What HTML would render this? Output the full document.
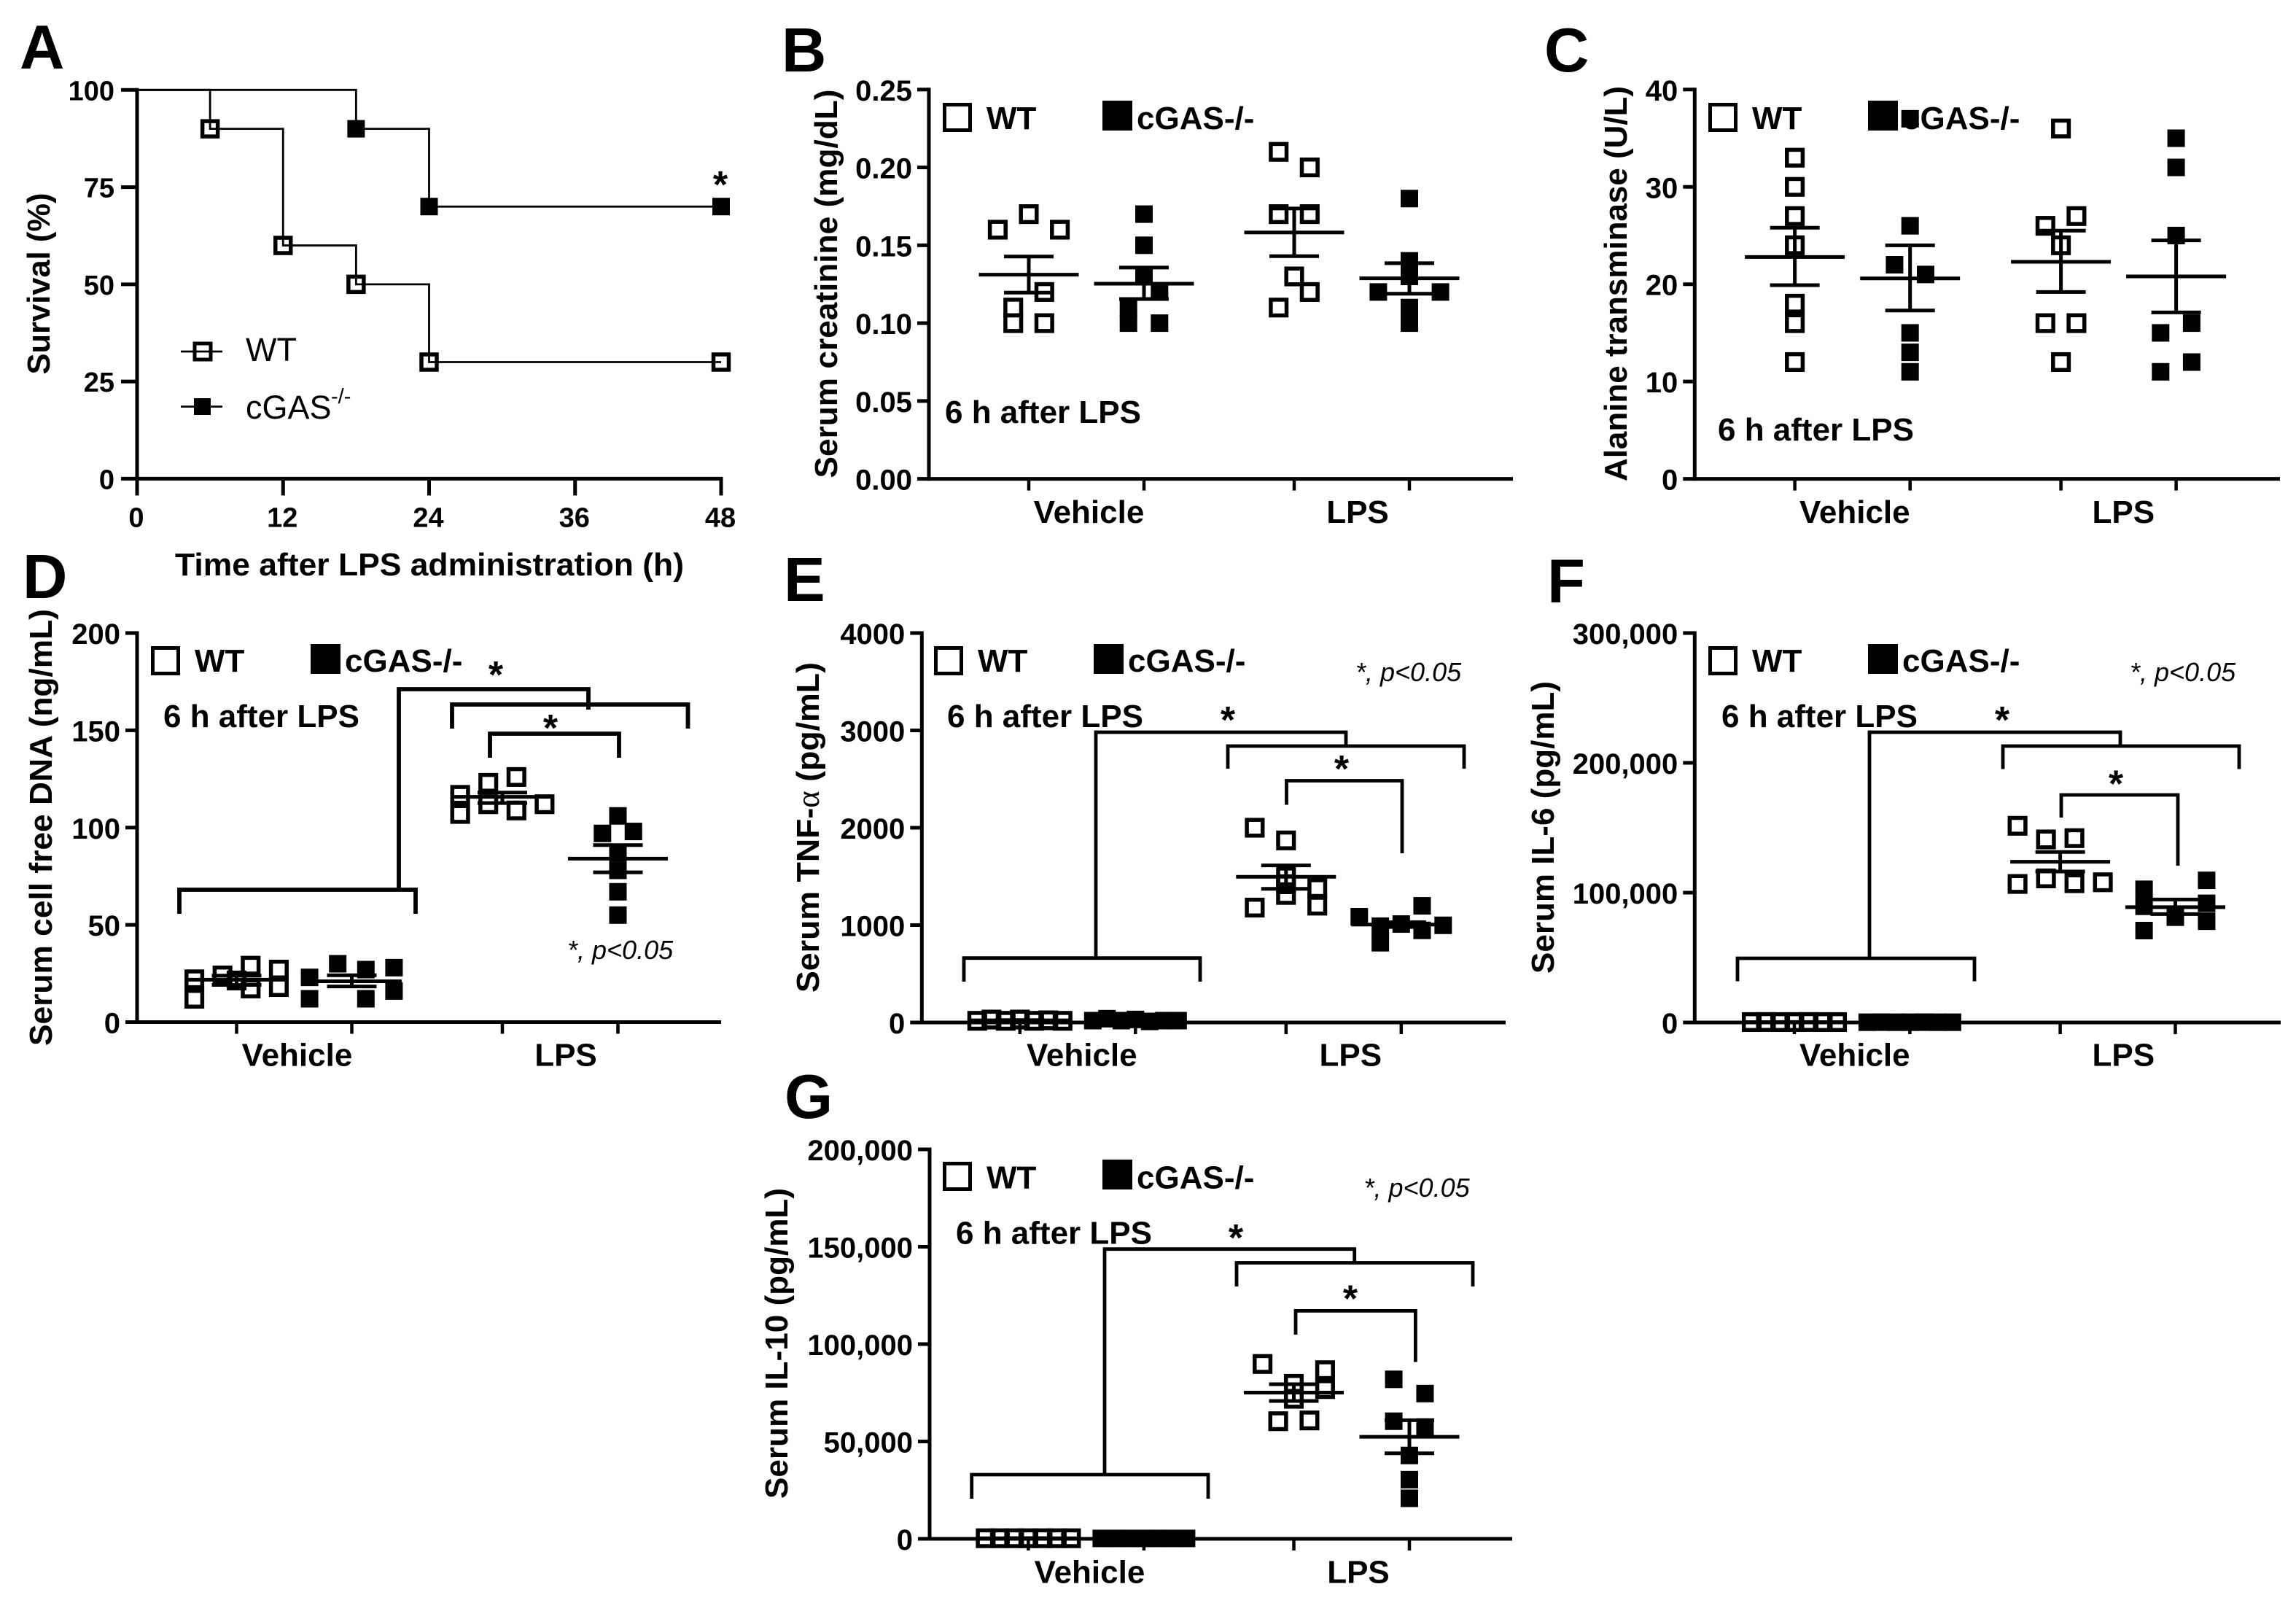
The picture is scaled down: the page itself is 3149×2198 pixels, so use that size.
<!DOCTYPE html>
<html lang="en">
<head>
<meta charset="utf-8">
<title>cGAS knockout LPS figure</title>
<style>
html,body{margin:0;padding:0;background:#fff;}
svg{display:block;}
text{font-family:"Liberation Sans",sans-serif;font-weight:700;fill:#000;}
.letter{font-size:85px;}
.ytitle{font-size:44px;text-anchor:middle;}
</style>
</head>
<body>
<svg id="fig" xmlns="http://www.w3.org/2000/svg" width="3149" height="2198" viewBox="0 0 3149 2198">
<rect x="0" y="0" width="3149" height="2198" fill="#fff"/>

<g id="panel-a">
<text class="letter" x="27" y="94">A</text>
<text class="ytitle" transform="translate(68,389) rotate(-90)" textLength="249" lengthAdjust="spacingAndGlyphs">Survival (%)</text>
<text x="240" y="789" font-size="44" textLength="698" lengthAdjust="spacingAndGlyphs">Time after LPS administration (h)</text>
</g>
<g id="panel-b">
<text class="letter" x="1072" y="98">B</text>
<text class="ytitle" transform="translate(1148,389) rotate(-90)" textLength="533" lengthAdjust="spacingAndGlyphs">Serum creatinine (mg/dL)</text>
</g>
<g id="panel-c">
<text class="letter" x="2118" y="98">C</text>
<text class="ytitle" transform="translate(2231,389) rotate(-90)" textLength="542" lengthAdjust="spacingAndGlyphs">Alanine transminase (U/L)</text>
</g>
<g id="panel-d">
<text class="letter" x="31" y="820">D</text>
<text class="ytitle" transform="translate(71,1134.5) rotate(-90)" textLength="599" lengthAdjust="spacingAndGlyphs">Serum cell free DNA (ng/mL)</text>
</g>
<g id="panel-e">
<text class="letter" x="1075" y="824">E</text>
<text class="ytitle" transform="translate(1123,1134.5) rotate(-90)" textLength="453" lengthAdjust="spacingAndGlyphs">Serum TNF-<tspan font-family="Liberation Serif" font-weight="400">α</tspan> (pg/mL)</text>
</g>
<g id="panel-f">
<text class="letter" x="2122" y="826">F</text>
<text class="ytitle" transform="translate(2131,1134.5) rotate(-90)" textLength="401" lengthAdjust="spacingAndGlyphs">Serum IL-6 (pg/mL)</text>
</g>
<g id="panel-g">
<text class="letter" x="1076" y="1533">G</text>
<text class="ytitle" transform="translate(1080,1842) rotate(-90)" textLength="426" lengthAdjust="spacingAndGlyphs">Serum IL-10 (pg/mL)</text>
</g>
</svg>

<script>
// ---------- Panel A data ----------
const aTimesWt = [0, 6, 12, 18, 24, 48];
const aSurvivalWt = [100, 90, 60, 50, 30, 30];
const aTimesKo = [0, 18, 24, 48];
const aSurvivalKo = [100, 90, 70, 70];
const aXTicks = [0, 12, 24, 36, 48];
const aYTicks = [0, 25, 50, 75, 100];

// ---------- Shared ----------
const categories = ["Vehicle", "LPS"];

// ---------- Panel B data ----------
const bTickValues = [0, 0.05, 0.10, 0.15, 0.20, 0.25];
const bTickLabels = ["0.00", "0.05", "0.10", "0.15", "0.20", "0.25"];
const bVehWt = [0.16, 0.17, 0.16, 0.12, 0.11, 0.10, 0.10];
const bVehWtSwarm = [-2, 0, 2, 1, -1, -1, 1];
const bVehKo = [0.17, 0.15, 0.13, 0.12, 0.11, 0.10, 0.10];
const bVehKoSwarm = [0, 0, 0, 1, -1, -1, 1];
const bLpsWt = [0.21, 0.20, 0.17, 0.17, 0.13, 0.12, 0.11];
const bLpsWtSwarm = [-1, 1, -1, 1, 0, 1, -1];
const bLpsKo = [0.18, 0.14, 0.13, 0.12, 0.12, 0.11, 0.10];
const bLpsKoSwarm = [0, 0, 0, -2, 2, 0, 0];
const bMeans = [0.1311, 0.1253, 0.1582, 0.1288];
const bUpper = [0.1428, 0.1357, 0.1736, 0.1385];
const bLower = [0.1196, 0.1155, 0.1430, 0.1189];

// ---------- Panel C data ----------
const cTickValues = [0, 10, 20, 30, 40];
const cTickLabels = ["0", "10", "20", "30", "40"];
const cVehWt = [33, 30, 27, 24, 18, 16, 12];
const cVehWtSwarm = [0, 0, 0, 0, 0, 0, 0];
const cVehKo = [37, 26, 22, 21, 15, 13, 11];
const cVehKoSwarm = [0, 0, -1, 1, 0, 0, 0];
const cLpsWt = [36, 27, 26, 24, 16, 16, 12];
const cLpsWtSwarm = [0, 1, -1, 0, -1, 1, 0];
const cLpsKo = [35, 32, 25, 16, 15, 12, 11];
const cLpsKoSwarm = [0, 0, 0, 1, -1, 1, -1];
const cMeans = [22.8, 20.6, 22.3, 20.8];
const cUpper = [25.8, 24.0, 25.5, 24.5];
const cLower = [19.9, 17.3, 19.2, 17.1];

// ---------- Panel D data ----------
const dTickValues = [0, 50, 100, 150, 200];
const dTickLabels = ["0", "50", "100", "150", "200"];
const dVehWt = [22, 12, 24, 21.4, 29, 17.3, 27, 18];
const dVehWtSwarm = [-3, -3, -1, 0, 1, 1, 3, 3];
const dVehKo = [23, 12, 30, 27, 12, 28, 16];
const dVehKoSwarm = [-3, -3, -1, 1, 1, 3, 3];
const dLpsWt = [116.8, 107, 123, 112, 126, 108.8, 112];
const dLpsWtSwarm = [-3, -3, -1, -1, 1, 1, 3];
const dLpsKo = [106, 97, 98, 87, 78, 67, 55];
const dLpsKoSwarm = [0, -1.1, 1.1, 0, 0, 0, 0];
const dMeans = [21.8, 21, 115.8, 84];
const dUpper = [23.9, 24.1, 118, 91];
const dLower = [19.1, 18.3, 112.6, 77];

// ---------- Panel E data ----------
const eTickValues = [0, 1000, 2000, 3000, 4000];
const eTickLabels = ["0", "1000", "2000", "3000", "4000"];
const eVehWt = [17, 30, 17, 30, 17, 22, 17];
const eVehWtSwarm = [-3, -2, -1, 0, 1, 2, 3];
const eVehKo = [19, 39, 19, 31, 11, 19, 19];
const eVehKoSwarm = [-3, -2, -1, 0, 1, 2, 3];
const eLpsWt = [2000, 1180, 1870, 1500, 1420, 1310, 1380, 1200];
const eLpsWtSwarm = [-2.2, -2.2, 0, 0, 0, 0, 2.2, 2.2];
const eLpsKo = [1086, 989, 819, 1011, 1198, 946, 998];
const eLpsKoSwarm = [-2.95, -1.47, -1.47, 0, 1.47, 1.47, 2.95];
const eMeans = [22, 20, 1496, 1006];
const eUpper = [24, 22, 1613, 1030];
const eLower = [20, 18, 1373, 980];

// ---------- Panel F data ----------
const fTickValues = [0, 100000, 200000, 300000];
const fTickLabels = ["0", "100,000", "200,000", "300,000"];
const fVehWt = [300, 350, 300, 300, 350, 300, 300];
const fVehWtSwarm = [-3, -2, -1, 0, 1, 2, 3];
const fVehKo = [200, 250, 200, 200, 250, 200, 200];
const fVehKoSwarm = [-3, -2, -1, 0, 1, 2, 3];
const fLpsWt = [151500, 106700, 141000, 111000, 142000, 107300, 108000];
const fLpsWtSwarm = [-3, -3, -1, -1, 1, 1, 3];
const fLpsKo = [102600, 89500, 70800, 81100, 109500, 91800, 78000];
const fLpsKoSwarm = [-2.2, -2.2, -2.2, 0, 2.2, 2.2, 2.2];
const fMeans = [310, 220, 123800, 88800];
const fUpper = [340, 240, 131300, 94700];
const fLower = [280, 200, 116300, 83500];

// ---------- Panel G data ----------
const gTickValues = [0, 50000, 100000, 150000, 200000];
const gTickLabels = ["0", "50,000", "100,000", "150,000", "200,000"];
const gVehWt = [300, 300, 300, 300, 300, 300, 300];
const gVehWtSwarm = [-3, -2, -1, 0, 1, 2, 3];
const gVehKo = [200, 200, 200, 200, 200, 200, 200];
const gVehKoSwarm = [-3, -2, -1, 0, 1, 2, 3];
const gLpsWt = [89800, 86600, 76900, 79600, 71900, 60400, 60800];
const gLpsWtSwarm = [-2.2, 2.2, 2.2, 0, 0, -1.1, 1.1];
const gLpsKo = [81900, 74600, 60400, 57400, 42800, 30400, 20800];
const gLpsKoSwarm = [-1.1, 1.1, -1.1, 1.1, 0, 0, 0];
const gMeans = [300, 200, 75100, 52400];
const gUpper = [320, 220, 79400, 60900];
const gLower = [280, 180, 70800, 43900];

// ---------- Helpers ----------
const NS = "http://www.w3.org/2000/svg";
function mk(parent, tag, attrs, txt) {
  const el = document.createElementNS(NS, tag);
  for (const k in attrs) el.setAttribute(k, attrs[k]);
  if (txt !== undefined) el.textContent = txt;
  parent.appendChild(el);
  return el;
}
function line(parent, x1, y1, x2, y2, sw) {
  return mk(parent, "line", {x1: x1, y1: y1, x2: x2, y2: y2, stroke: "#000", "stroke-width": sw});
}

// ---------- Panel A ----------
(function () {
  const g = document.getElementById("panel-a");
  const x0 = 188, x1 = 989, y0 = 656.4, yT = 123.3;
  const sx = h => x0 + h / 48 * (x1 - x0);
  const sy = v => y0 - v / 100 * (y0 - yT);
  let el;
  el = line(g, x0, yT - 2.5, x0, y0 + 2.5, 5);
  
  
  el = line(g, x0 - 2.5, y0, x1 + 2.5, y0, 5);
  
  
  aYTicks.forEach(v => {
    let t = line(g, x0 - 22, sy(v), x0, sy(v), 5);
    
    
    t = mk(g, "text", {x: 157, y: sy(v) + 14, "text-anchor": "end", "font-size": 38}, String(v));
    
    
  });
  aXTicks.forEach(v => {
    let t = line(g, sx(v), y0, sx(v), y0 + 23, 5);
    
    
    t = mk(g, "text", {x: sx(v) - 1, y: 722.6, "text-anchor": "middle", "font-size": 38}, String(v));
    
    
  });
  function steps(times, vals) {
    let d = "M" + sx(times[0]) + " " + sy(vals[0]);
    for (let i = 1; i < times.length; i++) d += "H" + sx(times[i]) + "V" + sy(vals[i]);
    return d;
  }
  el = mk(g, "path", {d: steps(aTimesWt, aSurvivalWt), fill: "none", stroke: "#000", "stroke-width": 2.8});
  
  
  el = mk(g, "path", {d: steps(aTimesKo, aSurvivalKo), fill: "none", stroke: "#000", "stroke-width": 2.8});
  
  
  aTimesWt.forEach((t, i) => {
    if (i === 0) return;
    const m = mk(g, "rect", {x: sx(t) - 10.5, y: sy(aSurvivalWt[i]) - 10.5, width: 21, height: 21, fill: "none", stroke: "#000", "stroke-width": 5.5});
    
    
  });
  aTimesKo.forEach((t, i) => {
    if (i === 0) return;
    const m = mk(g, "rect", {x: sx(t) - 12, y: sy(aSurvivalKo[i]) - 12, width: 24, height: 24, fill: "#000"});
    
    
  });
  el = mk(g, "text", {x: 988, y: 271, "text-anchor": "middle", "font-size": 52}, "*");
  
  
  // legend
  el = line(g, 248, 482, 305, 482, 2.8);
  
  
  el = mk(g, "rect", {x: 267, y: 471, width: 22, height: 22, fill: "none", stroke: "#000", "stroke-width": 5});
  
  
  el = mk(g, "text", {x: 337, y: 495, "font-size": 45, style: "font-weight:400"}, "WT");
  
  
  el = line(g, 248, 557.5, 305, 557.5, 2.8);
  
  
  el = mk(g, "rect", {x: 266, y: 546, width: 23, height: 23, fill: "#000"});
  
  
  el = mk(g, "text", {x: 337, y: 574, "font-size": 45, style: "font-weight:400"}, "cGAS");
  
  
  el = mk(g, "text", {x: 454, y: 553, "font-size": 29, style: "font-weight:400"}, "-/-");
  
  
})();

// ---------- Dot panels ----------
function dotPanel(c) {
  const g = document.getElementById(c.id);
  const sy = v => c.y0 - v / c.max * (c.y0 - c.yT);
  let el;
  el = line(g, c.ax, c.yT - 2.5, c.ax, c.y0 + 2.5, 5);
  
  
  el = line(g, c.ax - 2.5, c.y0, c.xEnd, c.y0, 5);
  
  
  c.tickValues.forEach((v, i) => {
    let t = line(g, c.ax - 16, sy(v), c.ax, sy(v), 5);
    
    
    t = mk(g, "text", {x: c.ax - 23, y: sy(v) + 15, "text-anchor": "end", "font-size": 40}, c.tickLabels[i]);
    
    
  });
  c.catTicks.forEach(dx => {
    const t = line(g, c.ax + dx, c.y0, c.ax + dx, c.y0 + 16, 4.5);
    
    
  });
  categories.forEach((name, i) => {
    const t = mk(g, "text", {x: c.ax + [219.5, 588][i], y: c.catBase, "text-anchor": "middle", "font-size": 44}, name);
    
    
  });
  // marks
  c.groups.forEach((grp, gi) => {
    const cx = c.ax + c.catTicks[gi];
    grp.values.forEach((v, i) => {
      const px = cx + grp.swarm[i] * c.unit;
      let m;
      if (grp.open) {
        m = mk(g, "rect", {x: px - 10.8, y: sy(v) - 10.8, width: 21.6, height: 21.6, fill: "none", stroke: "#000", "stroke-width": 5.5});
      } else {
        m = mk(g, "rect", {x: px - 12, y: sy(v) - 12, width: 24, height: 24, fill: "#000"});
      }
      
      
    });
    let e;
    e = line(g, cx - 68.5, sy(c.means[gi]), cx + 68.5, sy(c.means[gi]), 5);
    
    
    e = line(g, cx, sy(c.upper[gi]), cx, sy(c.lower[gi]), 5);
    
    
    e = line(g, cx - 34, sy(c.upper[gi]), cx + 34, sy(c.upper[gi]), 5);
    
    
    e = line(g, cx - 34, sy(c.lower[gi]), cx + 34, sy(c.lower[gi]), 5);
    
    
  });
  // legend
  el = mk(g, "rect", {x: c.leg.ox + 2.5, y: c.leg.oy + 2.5, width: 35, height: 35, fill: "none", stroke: "#000", "stroke-width": 5});
  
  
  el = mk(g, "text", {x: c.leg.ox + 60, y: c.leg.base, "font-size": 44}, "WT");
  
  
  el = mk(g, "rect", {x: c.leg.ox + 219, y: c.leg.oy - 3, width: 41, height: 41, fill: "#000"});
  
  
  el = mk(g, "text", {x: c.leg.ox + 266, y: c.leg.base, "font-size": 44}, "cGAS-/-");
  
  
  // annotation
  el = mk(g, "text", {x: c.note[0], y: c.note[1], "font-size": 44}, "6 h after LPS");
  
  
  if (c.p) {
    el = mk(g, "text", {x: c.p[0], y: c.p[1], "font-size": 36, "font-style": "italic", style: "font-weight:400"}, "*, p<0.05");
    
    
  }
  (c.brackets || []).forEach(d => {
    const b = mk(g, "path", {d: d, fill: "none", stroke: "#000", "stroke-width": c.bracketWidth || 4.8});
    
    
  });
  (c.stars || []).forEach(s => {
    const t = mk(g, "text", {x: s[0], y: s[1] + 28, "text-anchor": "middle", "font-size": 52}, "*");
    
    
  });
}

dotPanel({
  id: "panel-b", ax: 1274, xEnd: 2075, yT: 122.8, y0: 656.6, max: 0.25, unit: 21.3,
  catTicks: [137, 295, 501, 659], catBase: 717,
  tickValues: bTickValues, tickLabels: bTickLabels,
  groups: [
    {values: bVehWt, swarm: bVehWtSwarm, open: true},
    {values: bVehKo, swarm: bVehKoSwarm, open: false},
    {values: bLpsWt, swarm: bLpsWtSwarm, open: true},
    {values: bLpsKo, swarm: bLpsKoSwarm, open: false}
  ],
  means: bMeans, upper: bUpper, lower: bLower,
  leg: {ox: 1293, oy: 141, base: 177}, note: [1296, 580]
});
dotPanel({
  id: "panel-c", ax: 2324.3, xEnd: 3127, yT: 122.8, y0: 656.6, max: 40, unit: 21.3,
  catTicks: [137.3, 295.4, 502.3, 660.3], catBase: 717,
  tickValues: cTickValues, tickLabels: cTickLabels,
  groups: [
    {values: cVehWt, swarm: cVehWtSwarm, open: true},
    {values: cVehKo, swarm: cVehKoSwarm, open: false},
    {values: cLpsWt, swarm: cLpsWtSwarm, open: true},
    {values: cLpsKo, swarm: cLpsKoSwarm, open: false}
  ],
  means: cMeans, upper: cUpper, lower: cLower,
  leg: {ox: 2343, oy: 141, base: 177}, note: [2356, 604]
});
dotPanel({
  id: "panel-d", ax: 188, xEnd: 989, yT: 868, y0: 1401.5, max: 200, unit: 19.3,
  catTicks: [136.5, 294.5, 501, 659.5], catBase: 1461.5,
  tickValues: dTickValues, tickLabels: dTickLabels,
  groups: [
    {values: dVehWt, swarm: dVehWtSwarm, open: true},
    {values: dVehKo, swarm: dVehKoSwarm, open: false},
    {values: dLpsWt, swarm: dLpsWtSwarm, open: true},
    {values: dLpsKo, swarm: dLpsKoSwarm, open: false}
  ],
  means: dMeans, upper: dUpper, lower: dLower,
  leg: {ox: 207, oy: 886, base: 921}, note: [224, 997], p: [778, 1315], bracketWidth: 5.8,
  brackets: ["M246 1253V1220H570V1253", "M547 1220V945H807V973", "M620 999V966H943.5V999", "M672 1039V1006H849V1039"],
  stars: [[680, 915], [755, 988]]
});
dotPanel({
  id: "panel-e", ax: 1264.3, xEnd: 2065, yT: 868, y0: 1402, max: 4000, unit: 19.5,
  catTicks: [134.5, 293, 499.5, 657.5], catBase: 1461.5,
  tickValues: eTickValues, tickLabels: eTickLabels,
  groups: [
    {values: eVehWt, swarm: eVehWtSwarm, open: true},
    {values: eVehKo, swarm: eVehKoSwarm, open: false},
    {values: eLpsWt, swarm: eLpsWtSwarm, open: true},
    {values: eLpsKo, swarm: eLpsKoSwarm, open: false}
  ],
  means: eMeans, upper: eUpper, lower: eLower,
  leg: {ox: 1281, oy: 886, base: 921}, note: [1299, 997], p: [1859, 934],
  brackets: ["M1322 1346V1313.7H1646V1346", "M1503 1313.7V1004H1846V1023", "M1684 1054V1023H2008V1054", "M1764.5 1103.5V1070.5H1923V1170"],
  stars: [[1684, 977], [1840, 1044]]
});
dotPanel({
  id: "panel-f", ax: 2324.3, xEnd: 3128, yT: 868, y0: 1402, max: 300000, unit: 19.5,
  catTicks: [136.7, 295.1, 501.3, 659.2], catBase: 1461.5,
  tickValues: fTickValues, tickLabels: fTickLabels,
  groups: [
    {values: fVehWt, swarm: fVehWtSwarm, open: true},
    {values: fVehKo, swarm: fVehKoSwarm, open: false},
    {values: fLpsWt, swarm: fLpsWtSwarm, open: true},
    {values: fLpsKo, swarm: fLpsKoSwarm, open: false}
  ],
  means: fMeans, upper: fUpper, lower: fLower,
  leg: {ox: 2343, oy: 886, base: 921}, note: [2361, 997], p: [2921, 934],
  brackets: ["M2383 1345.5V1314H2708V1345.5", "M2564 1314V1004H2908V1023", "M2747 1054.5V1023H3071V1054.5", "M2827 1121V1090H2987V1187"],
  stars: [[2746, 977], [2902, 1064.5]]
});
dotPanel({
  id: "panel-g", ax: 1275, xEnd: 2074, yT: 1576, y0: 2110, max: 200000, unit: 19.5,
  catTicks: [135.4, 293.9, 499.5, 658], catBase: 2170.5,
  tickValues: gTickValues, tickLabels: gTickLabels,
  groups: [
    {values: gVehWt, swarm: gVehWtSwarm, open: true},
    {values: gVehKo, swarm: gVehKoSwarm, open: false},
    {values: gLpsWt, swarm: gLpsWtSwarm, open: true},
    {values: gLpsKo, swarm: gLpsKoSwarm, open: false}
  ],
  means: gMeans, upper: gUpper, lower: gLower,
  leg: {ox: 1293, oy: 1593, base: 1629.4}, note: [1311, 1705.6], p: [1870.5, 1641],
  brackets: ["M1332.7 2055V2022H1657V2055", "M1515 2022V1712.7H1857.7V1731.5", "M1696 1764V1731.5H2020V1764", "M1777 1830V1797.4H1941.4V1867.5"],
  stars: [[1695, 1687], [1852, 1770.6]]
});
</script>
</body>
</html>
